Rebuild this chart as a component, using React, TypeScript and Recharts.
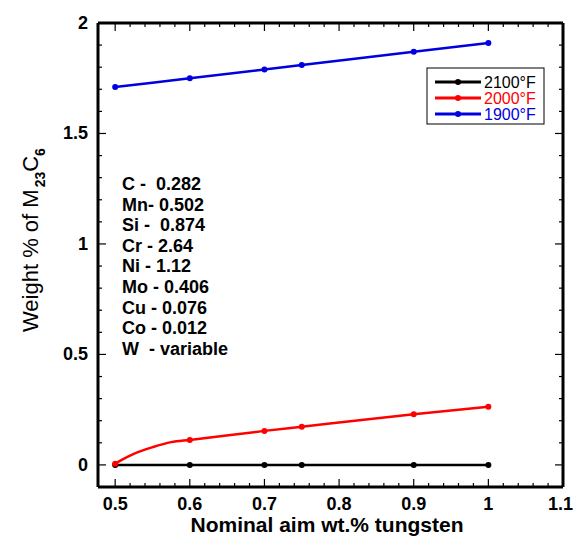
import { LineChart, Line, XAxis, YAxis, Customized } from "recharts";

// nominal tungsten levels (wt.%)
const tungsten = [0.5, 0.6, 0.7, 0.75, 0.9, 1.0];
const wt2100 = [0, 0, 0, 0, 0, 0];
const wt1900 = [1.71, 1.75, 1.79, 1.81, 1.87, 1.91];
// 2000F curve has extra points near the start where it bends
const tungsten2000 = [0.5, 0.51, 0.525, 0.55, 0.575, 0.6, 0.7, 0.75, 0.9, 1.0];
const wt2000 = [0.005, 0.025, 0.05, 0.08, 0.103, 0.113, 0.154, 0.173, 0.229, 0.263];

const xTicks = [
  0.5, 0.52, 0.54, 0.56, 0.58, 0.6, 0.62, 0.64, 0.66, 0.68, 0.7, 0.72, 0.74, 0.76, 0.78, 0.8,
  0.82, 0.84, 0.86, 0.88, 0.9, 0.92, 0.94, 0.96, 0.98, 1.0, 1.02, 1.04, 1.06, 1.08, 1.1,
];
const yTicks = [
  0, 0.1, 0.2, 0.3, 0.4, 0.5, 0.6, 0.7, 0.8, 0.9, 1.0, 1.1, 1.2, 1.3, 1.4, 1.5, 1.6, 1.7, 1.8,
  1.9, 2.0,
];

const composition = [
  "C -  0.282",
  "Mn- 0.502",
  "Si -  0.874",
  "Cr - 2.64",
  "Ni - 1.12",
  "Mo - 0.406",
  "Cu - 0.076",
  "Co - 0.012",
  "W  - variable",
];

const series = [
  { name: "2100°F", color: "#000000", x: tungsten, y: wt2100 },
  { name: "2000°F", color: "#ff0000", x: tungsten2000, y: wt2000 },
  { name: "1900°F", color: "#0000e0", x: tungsten, y: wt1900 },
];

const FONT = "'Liberation Sans', Arial, sans-serif";

const isMajor = (v: number, step: number) =>
  Math.abs(v / step - Math.round(v / step)) < 1e-6;
const fmt = (v: number) => String(Math.round(v * 10) / 10);

function BottomTick({ x, y, payload }: any) {
  const v = payload.value;
  const major = isMajor(v, 0.1);
  // last label sits on the frame edge, keep it inside the picture
  const edge = x > 555;
  return (
    <g>
      <line x1={x} y1={y} x2={x} y2={y - (major ? 8 : 4)} stroke="#000" strokeWidth={1.2} />
      {major && (
        <text
          x={edge ? 573 : x}
          y={y + 23}
          textAnchor={edge ? "end" : "middle"}
          fontSize={18}
          fontWeight="bold"
          fontFamily={FONT}
          fill="#000"
        >
          {fmt(v)}
        </text>
      )}
    </g>
  );
}

function TopTick({ x, y, payload }: any) {
  const major = isMajor(payload.value, 0.1);
  return <line x1={x} y1={y} x2={x} y2={y + (major ? 8 : 4)} stroke="#000" strokeWidth={1.2} />;
}

function LeftTick({ x, y, payload }: any) {
  const v = payload.value;
  const major = isMajor(v, 0.5);
  return (
    <g>
      <line x1={x} y1={y} x2={x + (major ? 8 : 4)} y2={y} stroke="#000" strokeWidth={1.2} />
      {major && (
        <text x={x - 10} y={y + 6} textAnchor="end" fontSize={18} fontWeight="bold" fontFamily={FONT} fill="#000">
          {fmt(v)}
        </text>
      )}
    </g>
  );
}

function RightTick({ x, y, payload }: any) {
  const major = isMajor(payload.value, 0.5);
  return <line x1={x} y1={y} x2={x - (major ? 8 : 4)} y2={y} stroke="#000" strokeWidth={1.2} />;
}

function makeDot(color: string, marked: number[]) {
  return (props: any) => {
    const { cx, cy, payload, index } = props;
    if (!marked.includes(payload.x)) return <g key={index} />;
    return <circle key={index} cx={cx} cy={cy} r={3} fill={color} stroke="none" />;
  };
}

function Notes() {
  const lx = 427;
  const ly = 68;
  return (
    <g fontFamily={FONT}>
      <rect x={lx} y={ly} width={117} height={56} fill="#fff" stroke="#000" strokeWidth={1} />
      {series.map((s, i) => (
        <g key={s.name}>
          <line x1={lx + 8} y1={ly + 14 + i * 16} x2={lx + 54} y2={ly + 14 + i * 16} stroke={s.color} strokeWidth={3} />
          <circle cx={lx + 31} cy={ly + 14 + i * 16} r={3} fill={s.color} />
          <text x={lx + 57} y={ly + 20 + i * 16} fontSize={16} fill={s.color}>
            {s.name}
          </text>
        </g>
      ))}
      {composition.map((t, i) => (
        <text
          key={t}
          x={122}
          y={190 + i * 20.6}
          fontSize={18}
          fontWeight="bold"
          fill="#000"
          style={{ whiteSpace: "pre" }}
        >
          {t}
        </text>
      ))}
      <text
        transform="translate(38,332) rotate(-90)"
        fontSize={22}
        fill="#000"
        style={{ whiteSpace: "pre" }}
      >
        Weight % of M
        <tspan fontSize={14} fontWeight="bold" dy={7} dx={2}>23</tspan>
        <tspan fontSize={22} dy={-7}>C</tspan>
        <tspan fontSize={14} fontWeight="bold" dy={7}>6</tspan>
      </text>
      <text x={327} y={532} textAnchor="middle" fontSize={21} fontWeight="bold" fill="#000">
        Nominal aim wt.% tungsten
      </text>
    </g>
  );
}

export default function App() {
  return (
    <div style={{ position: "absolute", left: 0, top: 0, background: "#fff" }}>
      <LineChart width={574} height={540} margin={{ top: 22, right: 10, bottom: 52, left: 97 }}>
        <XAxis
          xAxisId="b"
          type="number"
          dataKey="x"
          domain={[0.477, 1.1]}
          allowDataOverflow
          ticks={xTicks}
          interval={0}
          height={1}
          tickSize={0}
          tickMargin={0}
          tickLine={false}
          tick={<BottomTick />}
          axisLine={{ stroke: "#000", strokeWidth: 3 }}
        />
        <XAxis
          xAxisId="t"
          orientation="top"
          type="number"
          dataKey="x"
          domain={[0.477, 1.1]}
          allowDataOverflow
          ticks={xTicks}
          interval={0}
          height={1}
          tickSize={0}
          tickMargin={0}
          tickLine={false}
          tick={<TopTick />}
          axisLine={{ stroke: "#000", strokeWidth: 3 }}
        />
        <YAxis
          yAxisId="l"
          type="number"
          domain={[-0.1, 2]}
          allowDataOverflow
          ticks={yTicks}
          interval={0}
          width={1}
          tickSize={0}
          tickMargin={0}
          tickLine={false}
          tick={<LeftTick />}
          axisLine={{ stroke: "#000", strokeWidth: 3 }}
        />
        <YAxis
          yAxisId="r"
          orientation="right"
          type="number"
          domain={[-0.1, 2]}
          allowDataOverflow
          ticks={yTicks}
          interval={0}
          width={1}
          tickSize={0}
          tickMargin={0}
          tickLine={false}
          tick={<RightTick />}
          axisLine={{ stroke: "#000", strokeWidth: 3 }}
        />
        {series.map((s) => (
          <Line
            key={s.name}
            name={s.name}
            xAxisId="b"
            yAxisId="l"
            data={s.x.map((x, i) => ({ x, y: s.y[i] }))}
            dataKey="y"
            type="monotone"
            stroke={s.color}
            strokeWidth={2.5}
            dot={makeDot(s.color, tungsten)}
            activeDot={false}
            isAnimationActive={false}
          />
        ))}
        <Customized component={<Notes />} />
      </LineChart>
    </div>
  );
}
